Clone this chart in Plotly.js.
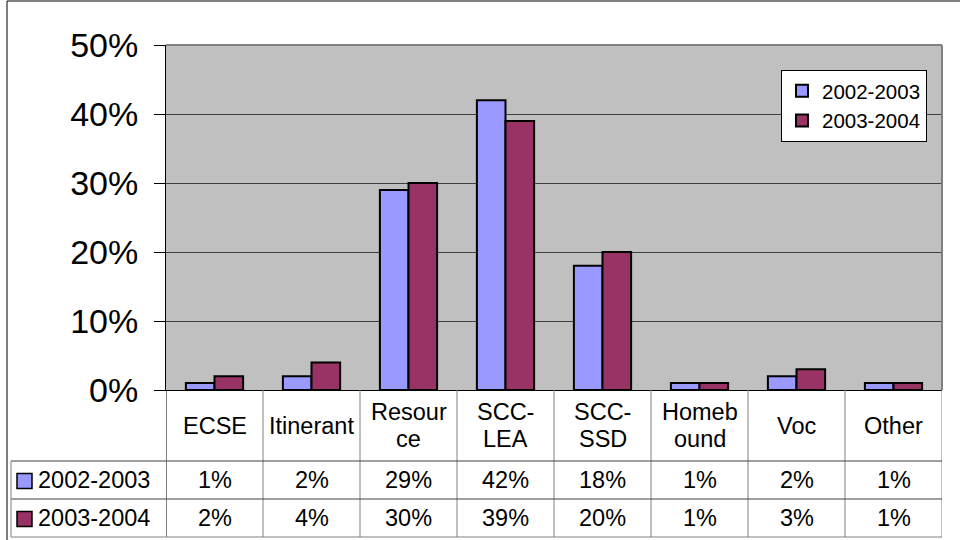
<!DOCTYPE html>
<html>
<head>
<meta charset="utf-8">
<script src="https://cdn.plot.ly/plotly-3.0.1.min.js"></script>
<style>html,body{margin:0;padding:0;background:#fff;}#chart{width:960px;height:540px;}</style>
</head>
<body>
<div id="chart"></div>
<script>
// ---- data ----
const categories = ["ECSE", "Itinerant", "Resource", "SCC-LEA", "SCC-SSD", "Homebound", "Voc", "Other"];
const categoryLabels = ["ECSE", "Itinerant", "Resour<br>ce", "SCC-<br>LEA", "SCC-<br>SSD", "Homeb<br>ound", "Voc", "Other"];
const seriesNames = ["2002-2003", "2003-2004"];
const values2002 = [1, 2, 29, 42, 18, 1, 2, 1];
const values2003 = [2, 4, 30, 39, 20, 1, 3, 1];
const yTickValues = [0, 10, 20, 30, 40, 50];
const seriesColors = ["#9999FF", "#993366"];

// ---- layout helpers (pixel -> paper) ----
const L = 166, R = 942, T = 45, B = 390;
const W = R - L, H = B - T;
const px = x => (x - L) / W;
const py = y => (B - y) / H;
const FONT = "Arial, 'Liberation Sans', sans-serif";
const TABLE_FONT = 23.5;

const seriesValues = [values2002, values2003];
const traces = seriesNames.map((name, s) => ({
  type: "bar",
  name: name,
  x: categories,
  y: seriesValues[s],
  marker: { color: seriesColors[s], line: { color: "#000", width: 2 } },
  hoverinfo: "skip"
}));

const shapes = [];
const annotations = [];

// table row geometry (pixels)
const headerBottom = 461, row1Bottom = 499, row2Bottom = 537, tableLeft = 11;
const gridDark = "#404040", gridGray = "#808080";

// vertical category separators in table
for (let i = 0; i <= categories.length; i++) {
  shapes.push({
    type: "line", xref: "x", yref: "paper",
    x0: i - 0.5, x1: i - 0.5, y0: 0, y1: py(row2Bottom),
    line: { color: i === 0 ? "#000" : gridGray, width: 1 }
  });
}
// horizontal table lines
[headerBottom, row1Bottom].forEach(y => shapes.push({
  type: "line", xref: "paper", yref: "paper",
  x0: px(tableLeft), x1: 1, y0: py(y), y1: py(y),
  line: { color: gridDark, width: 1 }
}));
shapes.push({
  type: "line", xref: "paper", yref: "paper",
  x0: px(tableLeft), x1: 1, y0: py(row2Bottom), y1: py(row2Bottom),
  line: { color: gridGray, width: 1 }
});
shapes.push({
  type: "line", xref: "paper", yref: "paper",
  x0: px(tableLeft), x1: px(tableLeft), y0: py(headerBottom), y1: py(row2Bottom),
  line: { color: gridGray, width: 1 }
});
// plot area border (top, right) in gray
shapes.push({ type: "line", xref: "paper", yref: "paper", x0: 0, x1: 1, y0: 1, y1: 1, line: { color: gridGray, width: 2 } });
shapes.push({ type: "line", xref: "paper", yref: "paper", x0: 1, x1: 1, y0: 0, y1: 1, line: { color: gridGray, width: 2 } });
// chart outer border
shapes.push({ type: "line", xref: "paper", yref: "paper", x0: px(7), x1: px(7), y0: py(1), y1: py(545), line: { color: "#000", width: 1 } });
shapes.push({ type: "line", xref: "paper", yref: "paper", x0: px(7), x1: px(965), y0: py(1), y1: py(1), line: { color: "#000", width: 1 } });

// header labels (multi-line labels split into separate lines, tighter spacing)
const headerCenter = (B + headerBottom) / 2;
const lineStep = 27;
categories.forEach((c, i) => {
  const lines = categoryLabels[i].split("<br>");
  lines.forEach((ln, k) => annotations.push({
    x: c, xref: "x",
    y: py(headerCenter + (k - (lines.length - 1) / 2) * lineStep), yref: "paper",
    text: ln, showarrow: false, xanchor: "center", yanchor: "middle",
    font: { family: FONT, size: TABLE_FONT, color: "#000" }
  }));
});
// data rows
const rowCenters = [(headerBottom + row1Bottom) / 2, (row1Bottom + row2Bottom) / 2];
seriesNames.forEach((name, s) => {
  const yc = rowCenters[s];
  shapes.push({
    type: "rect", xref: "paper", yref: "paper",
    x0: px(17), x1: px(32), y0: py(yc + 8.5), y1: py(yc - 6.5),
    fillcolor: seriesColors[s], line: { color: "#000", width: 1.5 }
  });
  annotations.push({
    x: px(36), xref: "paper", y: py(yc), yref: "paper",
    text: name, showarrow: false, xanchor: "left", yanchor: "middle",
    font: { family: FONT, size: TABLE_FONT, color: "#000" }
  });
  categories.forEach((c, i) => annotations.push({
    x: c, xref: "x", y: py(yc), yref: "paper",
    text: seriesValues[s][i] + "%", showarrow: false, xanchor: "center", yanchor: "middle",
    font: { family: FONT, size: TABLE_FONT, color: "#000" }
  }));
});

const layout = {
  width: 960, height: 540,
  margin: { l: L, r: 960 - R, t: T, b: 540 - B, pad: 0 },
  paper_bgcolor: "#fff",
  plot_bgcolor: "#C0C0C0",
  font: { family: FONT, color: "#000" },
  barmode: "group",
  bargap: 0.41,
  bargroupgap: 0,
  showlegend: true,
  legend: {
    x: px(927), xanchor: "right", y: py(70), yanchor: "top",
    bgcolor: "#fff", bordercolor: "#000", borderwidth: 1,
    font: { family: FONT, size: 20.5, color: "#000" },
    tracegroupgap: 0, itemwidth: 30
  },
  xaxis: {
    type: "category", range: [-0.5, categories.length - 0.5],
    showticklabels: false, ticks: "", showgrid: false, zeroline: false,
    showline: true, linecolor: "#000", linewidth: 1, fixedrange: true
  },
  yaxis: {
    range: [0, 50], tickvals: yTickValues, ticktext: yTickValues.map(v => v + "%"),
    showgrid: true, gridcolor: gridDark, gridwidth: 1, zeroline: false,
    showline: true, linecolor: "#000", linewidth: 1,
    ticks: "outside", ticklen: 11, tickcolor: "#000", tickwidth: 1,
    ticklabelstandoff: 9,
    tickfont: { family: FONT, size: 34, color: "#000" }, fixedrange: true
  },
  shapes: shapes,
  annotations: annotations
};

Plotly.newPlot("chart", traces, layout, { displayModeBar: false, staticPlot: true });
</script>
</body>
</html>
